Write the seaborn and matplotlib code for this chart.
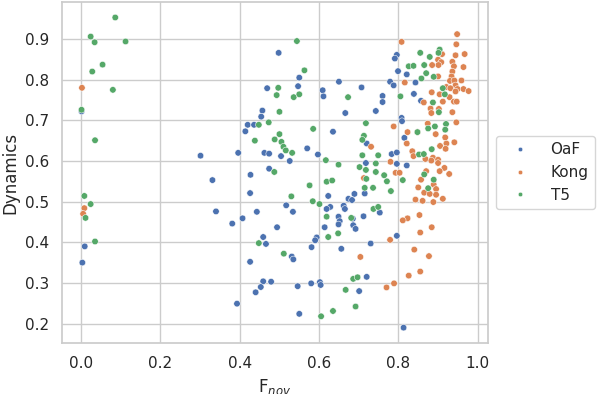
import pandas as pd
import matplotlib.pyplot as plt
import seaborn as sns

# Points (F_nov, Dynamics)
oaf_x = [0.001, 0.009, 0.003, 0.498, 0.550, 0.469, 0.547, 0.457, 0.454, 0.420, 0.436, 0.414,
         0.301, 0.396, 0.462, 0.474, 0.504, 0.526, 0.474, 0.427, 0.331, 0.426, 0.517, 0.340,
         0.443, 0.534, 0.407, 0.381, 0.494, 0.459, 0.466, 0.531, 0.535, 0.426, 0.459, 0.479,
         0.453, 0.546, 0.440, 0.393, 0.550, 0.796, 0.791, 0.799, 0.821, 0.650, 0.779, 0.788,
         0.609, 0.611, 0.707, 0.760, 0.760, 0.666, 0.743, 0.808, 0.809, 0.635, 0.720, 0.815,
         0.570, 0.597, 0.783, 0.796, 0.718, 0.796, 0.821, 0.715, 0.689, 0.623, 0.674, 0.683,
         0.628, 0.619, 0.662, 0.665, 0.753, 0.649, 0.685, 0.712, 0.652, 0.649, 0.614, 0.686,
         0.692, 0.796, 0.594, 0.590, 0.581, 0.656, 0.730, 0.720, 0.580, 0.602, 0.604, 0.701,
         0.813, 0.843, 0.839, 0.857]
oaf_y = [0.722, 0.390, 0.350, 0.866, 0.805, 0.779, 0.784, 0.724, 0.709, 0.689, 0.689, 0.673,
         0.613, 0.620, 0.620, 0.618, 0.612, 0.600, 0.581, 0.566, 0.553, 0.521, 0.491, 0.476,
         0.475, 0.475, 0.459, 0.446, 0.437, 0.413, 0.396, 0.365, 0.358, 0.352, 0.304, 0.303,
         0.290, 0.292, 0.277, 0.249, 0.224, 0.861, 0.852, 0.821, 0.813, 0.795, 0.795, 0.786,
         0.774, 0.759, 0.781, 0.760, 0.745, 0.718, 0.723, 0.706, 0.698, 0.672, 0.643, 0.657,
         0.631, 0.616, 0.617, 0.621, 0.595, 0.593, 0.589, 0.520, 0.519, 0.514, 0.507, 0.504,
         0.487, 0.482, 0.490, 0.482, 0.473, 0.463, 0.458, 0.464, 0.452, 0.444, 0.437, 0.442,
         0.433, 0.416, 0.412, 0.405, 0.388, 0.384, 0.397, 0.315, 0.299, 0.302, 0.295, 0.280,
         0.190, 0.793, 0.765, 0.748]

kong_x = [0.002, 0.008, 0.005, 0.808, 0.816, 0.788, 0.823, 0.731, 0.821, 0.780, 0.793, 0.803,
          0.713, 0.823, 0.811, 0.779, 0.704, 0.770, 0.789, 0.826, 0.948, 0.946, 0.910, 0.944,
          0.967, 0.900, 0.908, 0.885, 0.901, 0.936, 0.940, 0.964, 0.900, 0.936, 0.934, 0.930,
          0.941, 0.959, 0.944, 0.921, 0.931, 0.949, 0.964, 0.977, 0.944, 0.884, 0.904, 0.929,
          0.912, 0.940, 0.947, 0.864, 0.881, 0.902, 0.883, 0.936, 0.946, 0.874, 0.848, 0.894,
          0.918, 0.941, 0.921, 0.905, 0.919, 0.835, 0.838, 0.868, 0.887, 0.883, 0.900, 0.900,
          0.916, 0.870, 0.904, 0.928, 0.857, 0.889, 0.850, 0.895, 0.865, 0.879, 0.895, 0.843,
          0.861, 0.888, 0.912, 0.853, 0.884, 0.855, 0.840, 0.877, 0.855]
kong_y = [0.780, 0.484, 0.470, 0.893, 0.793, 0.685, 0.671, 0.635, 0.643, 0.598, 0.571, 0.571,
          0.558, 0.459, 0.454, 0.406, 0.364, 0.289, 0.299, 0.318, 0.912, 0.887, 0.863, 0.860,
          0.863, 0.849, 0.843, 0.836, 0.836, 0.844, 0.833, 0.831, 0.808, 0.820, 0.808, 0.797,
          0.798, 0.798, 0.786, 0.782, 0.779, 0.777, 0.777, 0.772, 0.771, 0.769, 0.764, 0.757,
          0.746, 0.746, 0.746, 0.744, 0.729, 0.728, 0.718, 0.720, 0.695, 0.692, 0.671, 0.666,
          0.658, 0.646, 0.643, 0.637, 0.630, 0.624, 0.612, 0.605, 0.608, 0.601, 0.603, 0.595,
          0.583, 0.575, 0.575, 0.568, 0.554, 0.542, 0.535, 0.531, 0.522, 0.519, 0.517, 0.505,
          0.502, 0.499, 0.507, 0.467, 0.437, 0.424, 0.382, 0.366, 0.328]

t5_x = [0.086, 0.024, 0.034, 0.112, 0.054, 0.028, 0.080, 0.001, 0.035, 0.008, 0.024, 0.011,
        0.035, 0.544, 0.497, 0.493, 0.536, 0.550, 0.500, 0.473, 0.448, 0.500, 0.488, 0.438,
        0.505, 0.510, 0.516, 0.532, 0.487, 0.530, 0.448, 0.511, 0.826, 0.563, 0.673, 0.805,
        0.585, 0.718, 0.713, 0.709, 0.617, 0.649, 0.709, 0.749, 0.702, 0.743, 0.718, 0.743,
        0.764, 0.719, 0.771, 0.811, 0.619, 0.633, 0.576, 0.715, 0.736, 0.781, 0.584, 0.601,
        0.737, 0.749, 0.619, 0.681, 0.648, 0.623, 0.686, 0.697, 0.667, 0.635, 0.605, 0.692,
        0.855, 0.879, 0.904, 0.901, 0.838, 0.865, 0.870, 0.858, 0.889, 0.912, 0.917, 0.887,
        0.902, 0.920, 0.892, 0.875, 0.918, 0.848, 0.884, 0.852, 0.864, 0.865, 0.889, 0.875]
t5_y = [0.953, 0.906, 0.892, 0.894, 0.837, 0.820, 0.775, 0.726, 0.651, 0.514, 0.494, 0.460,
        0.402, 0.895, 0.780, 0.762, 0.757, 0.764, 0.721, 0.695, 0.689, 0.666, 0.653, 0.650,
        0.647, 0.635, 0.626, 0.620, 0.573, 0.513, 0.398, 0.372, 0.833, 0.823, 0.757, 0.759,
        0.679, 0.693, 0.662, 0.652, 0.602, 0.591, 0.614, 0.614, 0.585, 0.594, 0.578, 0.573,
        0.565, 0.556, 0.550, 0.553, 0.549, 0.552, 0.540, 0.534, 0.534, 0.526, 0.501, 0.494,
        0.482, 0.487, 0.463, 0.460, 0.422, 0.413, 0.310, 0.314, 0.283, 0.231, 0.218, 0.242,
        0.866, 0.856, 0.874, 0.866, 0.834, 0.836, 0.816, 0.803, 0.807, 0.779, 0.764, 0.744,
        0.720, 0.691, 0.685, 0.680, 0.677, 0.671, 0.629, 0.616, 0.617, 0.567, 0.554, 0.533]

df = pd.concat([
    pd.DataFrame({'F_nov': oaf_x, 'Dynamics': oaf_y, 'model': 'OaF'}),
    pd.DataFrame({'F_nov': kong_x, 'Dynamics': kong_y, 'model': 'Kong'}),
    pd.DataFrame({'F_nov': t5_x, 'Dynamics': t5_y, 'model': 'T5'}),
], ignore_index=True)

sns.set_theme(style="whitegrid")

fig, ax = plt.subplots(figsize=(5.98, 3.94), dpi=100)
sns.scatterplot(data=df, x='F_nov', y='Dynamics', hue='model', s=22, ax=ax)
ax.set_xlabel("F$_{nov}$")
ax.set_ylabel("Dynamics")
ax.set_xticks([0.0, 0.2, 0.4, 0.6, 0.8, 1.0])
# legend sits just right of the axes
ax.legend(loc='center left', bbox_to_anchor=(1.0, 0.5), markerscale=0.7, handlelength=2.4)
fig.subplots_adjust(left=0.104, right=0.816, top=0.995, bottom=0.129)
fig.savefig("out.png", dpi=100)
